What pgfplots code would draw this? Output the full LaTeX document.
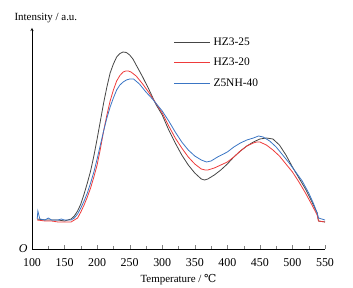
\documentclass[border=0pt]{standalone}
\usepackage{pgfplots}
\pgfplotsset{compat=1.18}
\usepackage{fontspec}
\setmainfont{Liberation Serif}
\newfontfamily\symfont{DejaVu Serif}
\definecolor{cblack}{HTML}{454545}
\definecolor{cred}{HTML}{EE3B3B}
\definecolor{cblue}{HTML}{3A75C4}
\begin{document}
\begin{tikzpicture}
\begin{axis}[
  scale only axis,
  width=293bp, height=221bp,
  xmin=100, xmax=550, ymin=0, ymax=221,
  axis lines=left,
  x axis line style={-},
  y axis line style={-stealth},
  xtick={100,150,...,550},
  minor x tick num=1,
  tick align=inside,
  major tick length=4bp,
  minor tick length=2.5bp,
  ytick={0},
  yticklabels={\textit{O}},
  ytick style={draw=none},
  tick label style={font=\fontsize{12}{12}\selectfont},
  xticklabel style={yshift=-6bp},
  yticklabel style={xshift=-1bp},
  /pgf/number format/assume math mode=true,
  xlabel={Temperature / {\symfont ℃}},
  xlabel style={font=\fontsize{11}{11}\selectfont, yshift=-1pt},
  legend style={draw=none, fill=none, at={(0.483,0.968)}, anchor=north west,
    font=\fontsize{11.5}{11.5}\selectfont, row sep=6.5bp, inner sep=0pt,
    nodes={text height=8bp, text depth=2bp, inner xsep=3bp}},
  legend cell align=left,
  legend image code/.code={\draw[#1] (0bp,0bp) -- (36bp,0bp);},
  every axis plot/.append style={line width=0.8pt},
]
\addplot[cblack] coordinates {
(108,30)(120,29)(130,29)(140,29)(150,28)(160,30)(165,33)(170,38)(175,45)(180,55)(185,66)(190,78)(195,93)(200,110)
(205,128)(210,146)(215,162)(220,176)(225,185)(230,192)(235,195.5)(240,197)(245,196.5)(250,194)(255,190)(260,184)(270,172)(280,159)(290,145)
(300,134)(310,119)(320,106)(330,94)(340,84)(350,76)(360,70)(365,69)(370,70)(380,74)
(390,79)(400,85)(410,92)(420,98)(430,103)(440,107)(450,110)(460,111)(470,110)(480,104)
(490,94)(500,82)(510,71)(520,60)(530,47)(538,36)(540,28)(550,27)};
\addlegendentry{HZ3-25}
\addplot[cred] coordinates {
(108,29)(120,28)(130,28)(140,27)(150,27)(160,27)(165,29)(170,31)(175,37)(180,44)(185,52)(190,61)(195,72)(200,84)
(205,100)(210,118)(215,134)(220,148)(225,159)(230,168)(235,173.5)(240,177)(244,178)(248,178)(252,177)(260,173)(270,165)(280,156)(290,146)
(300,136)(310,123)(320,111)(330,101)(340,92)(350,85)(360,80)(366,79)(370,79)(380,81)
(390,84)(400,87)(410,92)(420,98)(430,103)(440,106)(445,107)(450,107)(460,104)(470,99)
(480,93)(490,85)(500,77)(510,67)(520,56)(530,44)(538,34)(540,28)(550,27)};
\addlegendentry{HZ3-20}
\addplot[cblue] coordinates {
(108,30)(109,38)(112,30)(120,29)(125,31)(130,29)(140,29)(145,30)(150,29)(160,29)
(165,31)(170,35)(175,41)(180,48)(185,56)(190,66)(195,77)(200,90)(205,104)(210,118)(215,131)(220,142)(225,151)(230,159)(235,164)(240,167)(245,169)(250,170)(256,170)
(265,165)(275,157)(285,150)(290,146)(300,138)(310,128)(320,117)(330,107)(340,99)
(350,93)(360,89)(368,87)(375,88)(385,92)(400,97)(410,102)(420,106)(430,109)(440,111)
(448,113)(455,112)(465,108)(475,102)(485,94)(495,86)(505,77)(515,68)(525,56)(532,46)
(538,36)(540,31)(550,29)};
\addlegendentry{Z5NH-40}
\end{axis}
\node[anchor=west, font=\fontsize{11}{11}\selectfont] at (-21bp,231bp) {Intensity / a.u.};
\pgfresetboundingbox
\path[use as bounding box] (-32bp,-39bp) rectangle (321bp,249bp);
\end{tikzpicture}
\end{document}
